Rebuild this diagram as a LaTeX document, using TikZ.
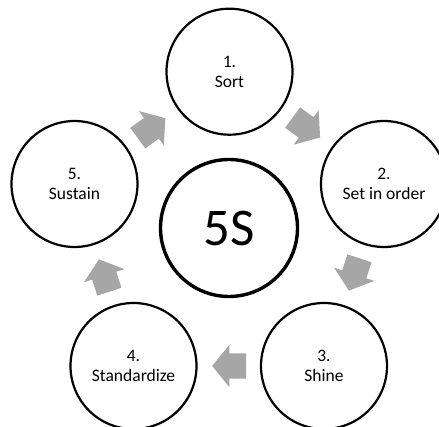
\documentclass[tikz,border=0pt]{standalone}
\usepackage{fontspec}
\setmainfont{Carlito}
\usetikzlibrary{shapes.arrows}
\definecolor{arrowgray}{RGB}{166,166,166}
\begin{document}
\begin{tikzpicture}[x=1pt,y=-1pt,
  stage/.style={circle, draw=black, line width=2.2pt, minimum size=126pt,
    inner sep=0pt, align=center, font=\fontsize{17.5}{20}\selectfont},
  hub/.style={circle, draw=black, line width=3.4pt, minimum size=137pt,
    inner sep=0pt, font=\fontsize{53}{60}\selectfont},
  flow/.style={single arrow, fill=arrowgray, draw=none, minimum height=34pt,
    inner xsep=0pt, inner ysep=12.5pt, single arrow head extend=8.5pt,
    single arrow tip angle=102, single arrow head indent=0pt,
    sloped, allow upside down, pos=0.41}]
\useasboundingbox (0,0) rectangle (439,427);
\clip (0,0) rectangle (439,427);

% centre and the five stages
\node[hub] (hub) at (229,228) {5S};
\node[stage] (s1) at (229.5,71.7) {1.\\Sort};
\node[stage] (s2) at (384,184) {2.\\Set in order};
\node[stage] (s3) at (324,366) {3.\\Shine};
\node[stage] (s4) at (133.5,366) {4.\\Standardize};
\node[stage] (s5) at (74.5,184) {5.\\Sustain};

% block arrows running round the cycle
\path (s1) -- node[flow] (f12) {} (s2);
\path (s2) -- node[flow] (f23) {} (s3);
\path (s3) -- node[flow] (f34) {} (s4);
\path (s4) -- node[flow] (f45) {} (s5);
\path (s5) -- node[flow] (f51) {} (s1);
\end{tikzpicture}
\end{document}
